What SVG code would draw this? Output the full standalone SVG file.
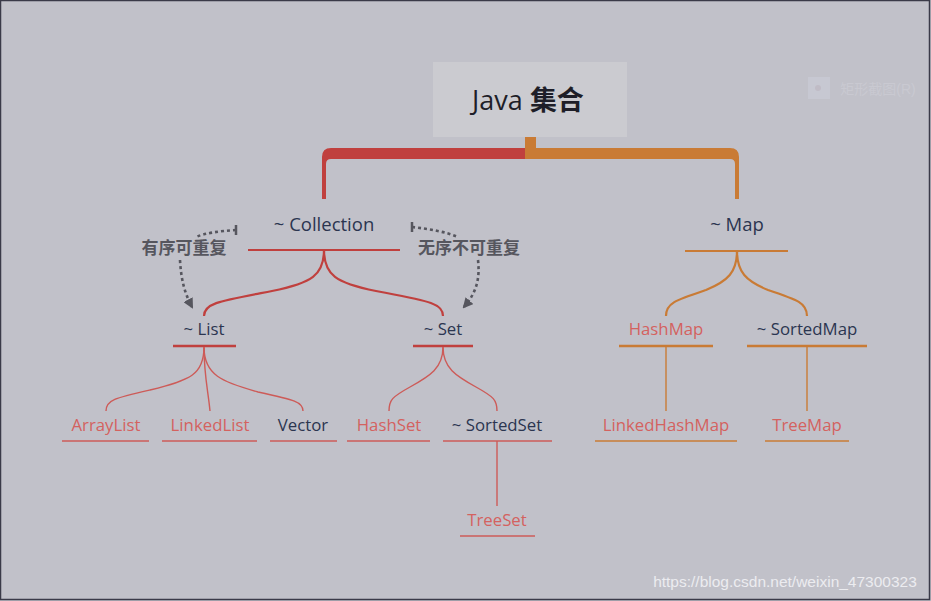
<svg xmlns="http://www.w3.org/2000/svg" width="931" height="601" viewBox="0 0 931 601">
<defs>
<style>
text{font-family:"Open Sans","Noto Sans","Noto Sans CJK SC",sans-serif;text-anchor:middle}
.t1{font-size:18.5px;fill:#2b3550}
.t2{font-size:16.8px;fill:#2b3550}
.lr{font-size:16.8px;fill:#d4625f}
.red{stroke:#c0403e;fill:none}
.org{stroke:#c97b35;fill:none}
.rl{stroke:#cd5b58;fill:none;stroke-width:1.4}
.ol{stroke:#c97b35;fill:none;stroke-width:1.4}
.dash{stroke:#56565e;fill:none;stroke-width:2.6;stroke-dasharray:3 3}
.note{font-size:17px;font-weight:bold;fill:#56565e;font-family:"Noto Sans CJK SC",sans-serif}
</style>
<marker id="ah" viewBox="0 0 10 10" refX="8" refY="5" markerWidth="4" markerHeight="4" orient="auto" markerUnits="strokeWidth">
<path d="M0,0 L10,5 L0,10 Z" fill="#56565e"/>
</marker>
</defs>
<rect x="0" y="0" width="931" height="601" fill="#c1c1c9"/>
<rect x="0.5" y="0.5" width="929" height="599" fill="none" stroke="#3a3a48" stroke-width="1.5"/>

<g id="watermark-tool">
<rect x="808" y="77" width="22" height="22" fill="#c7c8d2"/>
<circle cx="818" cy="88" r="3" fill="#c0bcc6"/>
<text x="878" y="94" style="font-size:14px;fill:#c9c9d1;font-family:'Liberation Sans','Noto Sans CJK SC',sans-serif">矩形截图(R)</text>
</g>

<g id="connectors">
<path d="M525,148 H331 Q322,148 322,157 V199 H326 V164 Q326,159 331,159 H525 Z" fill="#c0403e"/>
<path d="M525,148 H730 Q739,148 739,157 V199 H735 V164 Q735,159 730,159 H525 Z" fill="#c97b35"/>
<rect x="525" y="137" width="11" height="22" fill="#c97b35"/>

<line class="red" x1="248" y1="250" x2="400" y2="250" stroke-width="2.2"/>
<path class="red" stroke-width="2.2" d="M324,250 C324,275 312,283 272,291 C220,301 204,303 204,316"/>
<path class="red" stroke-width="2.2" d="M324,250 C324,275 336,283 376,291 C428,301 443,303 443,316"/>

<line class="red" x1="173" y1="346" x2="236" y2="346" stroke-width="2.6"/>
<line class="red" x1="413" y1="346" x2="473" y2="346" stroke-width="2.6"/>
<path class="rl" d="M204,347 C204,375 190,380 150,390 C115,398 106,400 106,411"/>
<path class="rl" d="M204,347 C204,375 208,390 210,411"/>
<path class="rl" d="M204,347 C204,375 222,382 258,392 C295,400 303,402 303,411"/>
<path class="rl" d="M443,347 C443,368 430,376 410,387 C392,397 389,400 389,411"/>
<path class="rl" d="M443,347 C443,368 456,376 476,387 C494,397 497,400 497,411"/>

<line class="rl" x1="62" y1="441" x2="149" y2="441"/>
<line class="rl" x1="162" y1="441" x2="257" y2="441"/>
<line class="rl" x1="270" y1="441" x2="337" y2="441"/>
<line class="rl" x1="347" y1="441" x2="430" y2="441"/>
<line class="rl" x1="443" y1="441" x2="552" y2="441"/>
<line class="rl" x1="497" y1="441" x2="497" y2="506"/>
<line class="rl" x1="460" y1="536" x2="535" y2="536"/>

<line class="org" x1="685" y1="251" x2="788" y2="251" stroke-width="2.2"/>
<path class="org" stroke-width="2.2" d="M737,251 C737,272 728,281 706,290 C676,300 666,303 666,316"/>
<path class="org" stroke-width="2.2" d="M737,251 C737,272 746,281 768,290 C798,300 807,303 807,316"/>
<line class="org" x1="619" y1="346" x2="713" y2="346" stroke-width="2.6"/>
<line class="org" x1="747" y1="346" x2="867" y2="346" stroke-width="2.6"/>
<line class="ol" x1="666" y1="346" x2="666" y2="411"/>
<line class="ol" x1="807" y1="346" x2="807" y2="411"/>
<line class="ol" x1="595" y1="441" x2="737" y2="441"/>
<line class="ol" x1="765" y1="441" x2="849" y2="441"/>

<path class="dash" d="M236,230 C220,231 205,233 196,237 M180,260 C181,278 184,292 192,307" marker-end="url(#ah)"/>
<line x1="236" y1="225" x2="236" y2="235" stroke="#56565e" stroke-width="2.5"/>
<path class="dash" d="M412,227 C430,229 446,232 458,237 M478,260 C480,278 477,292 464,307" marker-end="url(#ah)"/>
<line x1="412" y1="222" x2="412" y2="232" stroke="#56565e" stroke-width="2.5"/>
</g>

<g id="root">
<rect x="433" y="62" width="194" height="75" fill="#cbcbd0"/>
<text x="528" y="110" style="font-size:27px;fill:#1e1e28"><tspan>Java </tspan><tspan style="font-weight:bold;font-family:'Noto Sans CJK SC',sans-serif">集合</tspan></text>
</g>
<g id="collection"><text class="t1" x="324" y="231">~ Collection</text></g>
<g id="map"><text class="t1" x="737" y="231">~ Map</text></g>
<g id="note-ordered"><text class="note" x="184" y="254">有序可重复</text></g>
<g id="note-unordered"><text class="note" x="469" y="254">无序不可重复</text></g>
<g id="list"><text class="t2" x="204" y="335">~ List</text></g>
<g id="set"><text class="t2" x="443" y="335">~ Set</text></g>
<g id="hashmap"><text class="lr" x="666" y="335">HashMap</text></g>
<g id="sortedmap"><text class="t2" x="807" y="335">~ SortedMap</text></g>
<g id="arraylist"><text class="lr" x="106" y="431">ArrayList</text></g>
<g id="linkedlist"><text class="lr" x="210" y="431">LinkedList</text></g>
<g id="vector"><text class="t2" x="303" y="431">Vector</text></g>
<g id="hashset"><text class="lr" x="389" y="431">HashSet</text></g>
<g id="sortedset"><text class="t2" x="497" y="431">~ SortedSet</text></g>
<g id="treeset"><text class="lr" x="497" y="526">TreeSet</text></g>
<g id="linkedhashmap"><text class="lr" x="666" y="431">LinkedHashMap</text></g>
<g id="treemap"><text class="lr" x="807" y="431">TreeMap</text></g>

<text x="785" y="587" style="font-size:15.5px;fill:#ececf0;font-family:'Liberation Sans',sans-serif">https://blog.csdn.net/weixin_47300323</text>
</svg>
